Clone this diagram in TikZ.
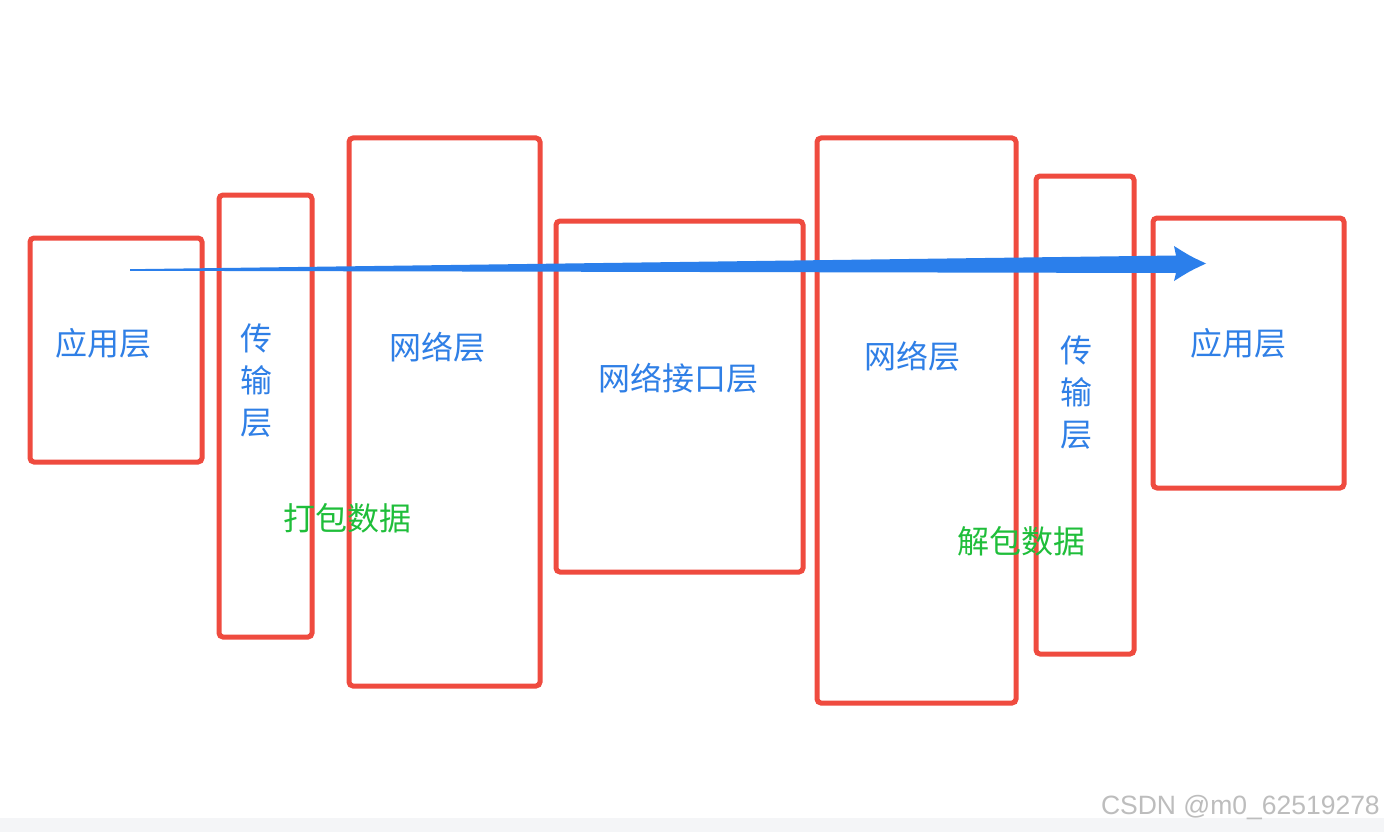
\documentclass[tikz,border=0pt]{standalone}
\usepackage{fontspec}
\newfontfamily\cjk{Noto Sans CJK SC}
\newfontfamily\wmfont{Liberation Sans}
\definecolor{boxred}{HTML}{EF4B3F}
\definecolor{txtblue}{HTML}{2F7FE6}
\definecolor{txtgreen}{HTML}{1FBE3A}
\definecolor{arrowblue}{HTML}{2B7FEB}
\definecolor{wmgrey}{HTML}{BDBDBD}
\definecolor{barbg}{HTML}{F4F5F7}
\begin{document}
\begin{tikzpicture}[x=1pt,y=-1pt,
  layerbox/.style={draw=boxred,line width=5pt,rounded corners=4pt},
  layertext/.style={text=txtblue,font=\cjk\fontsize{32}{42}\selectfont,inner sep=0pt,align=center},
  notetext/.style={text=txtgreen,font=\cjk\fontsize{32}{40}\selectfont,inner sep=0pt}]
\useasboundingbox (0,0) rectangle (1384,832);
\fill[white] (0,0) rectangle (1384,832);
\fill[barbg] (0,818) rectangle (1384,832);
% boxes
\draw[layerbox] (30,238) rectangle (202,462);
\draw[layerbox] (219,195) rectangle (312,637);
\draw[layerbox] (349,138) rectangle (540,686);
\draw[layerbox] (556,221) rectangle (803,572);
\draw[layerbox] (817,138) rectangle (1016,703);
\draw[layerbox] (1036,176) rectangle (1134,654);
\draw[layerbox] (1153,218) rectangle (1344,488);
% labels
\node[layertext] (app1) at (103,343) {应用层};
\node[layertext] (tr1) at (256,381) {传\\输\\层};
\node[layertext] (net1) at (437,347) {网络层};
\node[layertext] (nif) at (678,378) {网络接口层};
\node[layertext] (net2) at (912,356) {网络层};
\node[layertext] (tr2) at (1076,393) {传\\输\\层};
\node[layertext] (app2) at (1238,343) {应用层};
\node[notetext] (pack) at (347,518) {打包数据};
\node[notetext] (unpack) at (1021,541) {解包数据};
% arrow (tapered)
\coordinate (as) at (130,270);
\coordinate (ae) at (1206,263.5);
\fill[arrowblue] (130,269.2) -- (1176,255.5) -- (1174,246) .. controls (1190,256) .. (ae)
  .. controls (1190,271) .. (1174,281) -- (1176,273) -- (130,270.8) -- cycle;
% watermark
\node[text=wmgrey,font=\wmfont\fontsize{26.5}{26.5}\selectfont,anchor=east,inner sep=0pt] (wm) at (1380,808) {CSDN @m0\_62519278};
\end{tikzpicture}
\end{document}
